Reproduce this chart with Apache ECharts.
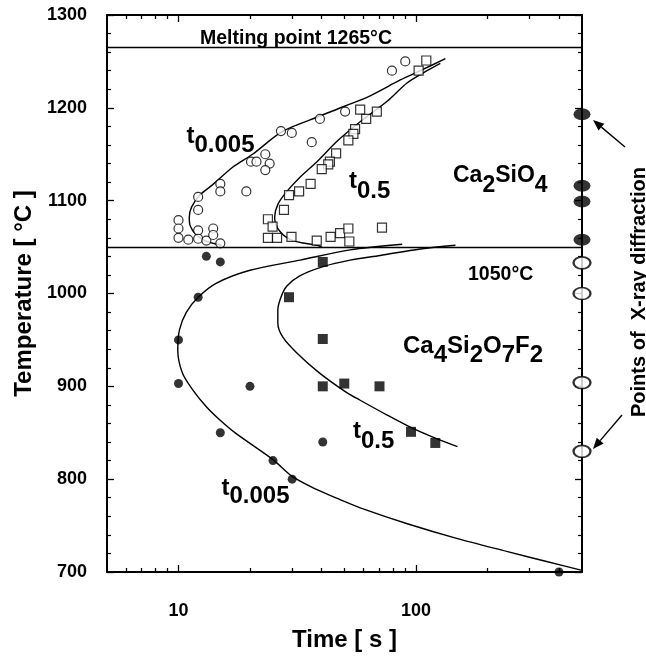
<!DOCTYPE html>
<html>
<head>
<meta charset="utf-8">
<script src="https://cdn.jsdelivr.net/npm/echarts@6/dist/echarts.min.js"></script>
<style>
  html, body { margin: 0; padding: 0; background: #fff; }
  #chart { width: 646px; height: 657px; }
</style>
</head>
<body>
<div id="chart"></div>
<script>
// [time s, temperature °C]
// above 1050°C (Ca2SiO4 field), open markers
const openCircles = [
  [10.0, 1079], [10.0, 1070], [10.0, 1060], [11.0, 1058], [12.1, 1068], [12.1, 1059],
  [13.1, 1057], [14.0, 1070], [14.0, 1063], [15.0, 1054], [12.1, 1104], [12.1, 1090],
  [15.0, 1118], [15.0, 1110], [19.3, 1110], [20.2, 1142], [21.3, 1142], [23.2, 1150],
  [24.2, 1140], [23.2, 1133], [27.0, 1175], [30.0, 1173], [36.4, 1163], [39.4, 1188],
  [50.3, 1196], [79.2, 1240], [90.1, 1250]
]
const openSquares = [
  [110.5, 1251], [102.6, 1240], [58.2, 1198], [68.4, 1196], [61.7, 1188], [55.4, 1177],
  [54.5, 1172], [51.9, 1165], [46.1, 1151], [43.4, 1142], [42.7, 1139], [40.1, 1134],
  [36.0, 1118], [32.2, 1110], [29.2, 1106], [27.8, 1090], [23.8, 1080], [24.9, 1072],
  [23.8, 1060], [26.0, 1060], [29.9, 1061], [38.2, 1057], [43.7, 1061], [47.9, 1065],
  [51.9, 1070], [52.4, 1056], [71.9, 1071]
]
// below 1050°C (Ca4Si2O7F2 field), filled markers
const filledCircles = [
  [13.1, 1040], [15.0, 1034], [12.1, 996], [10.0, 950], [10.0, 903], [20.0, 900],
  [15.0, 850], [25.0, 820], [30.1, 800], [40.5, 840], [400, 700]
]
const filledSquares = [
  [40.5, 1034], [29.2, 996], [40.5, 951], [40.5, 900], [49.9, 903], [70.2, 900],
  [95.3, 851], [120.6, 839]
]
// fitted curves
const upperT0005 = [
  [15.2, 1052], [12.9, 1057], [11.8, 1064], [11.2, 1073], [11.1, 1082], [11.35, 1093],
  [12.3, 1106], [13.9, 1117], [16.9, 1136], [20.5, 1150], [27.2, 1174], [35.8, 1187],
  [50.3, 1202], [64.1, 1213], [85.9, 1230], [104.3, 1240], [133, 1253]
]
const upperT05 = [
  [40.2, 1050], [38.3, 1052], [30.3, 1057], [26.7, 1067], [25.4, 1082], [26.2, 1096],
  [28.6, 1110], [32.4, 1125], [38.3, 1142], [46.5, 1164], [58.2, 1185], [75.6, 1207],
  [91.9, 1227], [109.5, 1239], [126.6, 1248]
]
const lowerT0005 = [
  [87.5, 1053], [52.8, 1047], [32.5, 1036], [20.0, 1025], [14.4, 1011], [12.1, 996],
  [10.8, 980], [10.1, 961], [9.93, 939], [10.4, 914], [11.5, 896], [13.1, 878],
  [14.9, 864], [17.5, 849], [25.0, 821], [30.1, 803], [38.1, 789], [47.9, 778],
  [59.9, 768], [91.9, 752], [149.5, 736], [243, 722], [358, 711], [495, 702]
]
const lowerT05 = [
  [146.6, 1052], [104.3, 1048], [70.7, 1041], [52.8, 1036], [40.6, 1029], [32.4, 1019],
  [28.6, 1008], [27.0, 996], [26.2, 982], [26.2, 968], [27.5, 953], [31.5, 936],
  [39.4, 914], [51.3, 893], [58.2, 885], [75.6, 869], [94.6, 856], [118.4, 845], [149.5, 835]
]
// points of X-ray diffraction, on the right frame
const xrayTime = 500
const xrayFilled = [1193, 1116, 1099, 1058]
const xrayOpen = [1033, 1000, 904, 830]
const phaseLines = [1265, 1050]

const xMajor = [10, 100]
const xMinor = [6, 7, 8, 9, 20, 30, 40, 50, 60, 70, 80, 90, 200, 300, 400]

const FONT = 'Liberation Sans, Arial, Helvetica, sans-serif'
const chart = echarts.init(document.getElementById('chart'))

const xBase = (position, ticks, len, labels) => ({
  type: 'log',
  logBase: 10,
  min: 5,
  max: 500,
  position: position,
  axisLine: { show: !!labels, lineStyle: { color: '#000', width: 2 } },
  axisTick: { show: true, inside: true, length: len, customValues: ticks, lineStyle: { color: '#000', width: 1.3 } },
  axisLabel: labels
    ? { show: true, customValues: xMajor, margin: 30, color: '#000', fontFamily: FONT, fontWeight: 'bold', fontSize: 18 }
    : { show: false },
  splitLine: { show: false },
  minorTick: { show: false }
})

const yBase = (position, labels) => ({
  type: 'value',
  min: 700,
  max: 1300,
  interval: 100,
  position: position,
  axisLine: { show: true, lineStyle: { color: '#000', width: 2 } },
  axisTick: { show: true, inside: true, length: 7, lineStyle: { color: '#000', width: 1.3 } },
  minorTick: { show: true, splitNumber: 5, length: 4, lineStyle: { color: '#000', width: 1.2 } },
  axisLabel: labels
    ? { show: true, margin: 20, color: '#000', fontFamily: FONT, fontWeight: 'bold', fontSize: 18, formatter: (v) => String(v) }
    : { show: false },
  splitLine: { show: false }
})

const xAxes = [
  Object.assign(xBase('bottom', xMajor, 7, true), {
    name: 'Time [ s ]', nameLocation: 'middle', nameGap: 56,
    nameTextStyle: { color: '#000', fontFamily: FONT, fontWeight: 'bold', fontSize: 24 }
  }),
  xBase('bottom', xMinor, 4, false),
  Object.assign(xBase('top', xMajor, 7, false), { axisLine: { show: true, lineStyle: { color: '#000', width: 2 } } }),
  xBase('top', xMinor, 4, false)
]
const yAxes = [
  Object.assign(yBase('left', true), {
    name: 'Temperature [ °C ]', nameLocation: 'middle', nameGap: 67,
    nameTextStyle: { color: '#000', fontFamily: FONT, fontWeight: 'bold', fontSize: 24 }
  }),
  yBase('right', false)
]

const curve = (data) => ({
  type: 'line',
  data: data,
  showSymbol: false,
  smooth: 0.3,
  silent: true,
  lineStyle: { color: '#000', width: 1.4 },
  z: 2
})
const marks = (data, symbol, size, filled) => ({
  type: 'scatter',
  data: data,
  symbol: symbol,
  symbolSize: size,
  clip: false,
  itemStyle: filled
    ? { color: '#000' }
    : { color: '#fff', borderColor: '#000', borderWidth: 1.2 },
  z: 4
})

// text with lowered subscripts: one text element per piece, placed by measured width
const ctx = document.createElement('canvas').getContext('2d')
const textWidth = (s, size) => {
  ctx.font = 'bold ' + size + 'px ' + FONT
  return ctx.measureText(s).width
}
const subText = (parts, x, baseline, size, drop) => {
  const out = []
  let cx = x
  parts.forEach((p, i) => {
    const b = baseline + (i % 2 ? drop : 0)
    out.push({
      type: 'text', x: cx, y: b - 0.35 * size, z: 10,
      style: { text: p, font: 'bold ' + size + 'px ' + FONT, fill: '#000', verticalAlign: 'middle', align: 'left' }
    })
    cx += textWidth(p, size)
  })
  return out
}

const arrow = (x1, y1, x2, y2) => {
  const a = Math.atan2(y2 - y1, x2 - x1)
  const L = 11, W = 4.5
  const bx = x2 - L * Math.cos(a), by = y2 - L * Math.sin(a)
  return {
    type: 'group',
    children: [
      { type: 'line', shape: { x1: x1, y1: y1, x2: bx, y2: by }, style: { stroke: '#000', lineWidth: 1.4 } },
      { type: 'polygon', shape: { points: [[x2, y2], [bx - W * Math.sin(a), by + W * Math.cos(a)], [bx + W * Math.sin(a), by - W * Math.cos(a)]] }, style: { fill: '#000' } }
    ],
    z: 10
  }
}

const option = {
  animation: false,
  backgroundColor: '#fff',
  grid: { left: 107, right: 64, top: 15, bottom: 85 },
  xAxis: xAxes,
  yAxis: yAxes,
  series: [
    Object.assign(marks([], 'circle', 1, true), {
      markLine: {
        silent: true,
        symbol: ['none', 'none'],
        label: { show: false },
        lineStyle: { color: '#000', width: 1.3, type: 'solid' },
        data: phaseLines.map((v) => ({ yAxis: v }))
      }
    }),
    curve(upperT0005),
    curve(upperT05),
    curve(lowerT0005),
    curve(lowerT05),
    marks(openCircles, 'circle', 9, false),
    marks(openSquares, 'rect', 9, false),
    marks(filledCircles, 'circle', 9, true),
    marks(filledSquares, 'rect', 10, true),
    Object.assign(marks(xrayFilled.map((t) => [xrayTime, t]), 'circle', [17, 12], true), { z: 6 }),
    Object.assign(marks(xrayOpen.map((t) => [xrayTime, t]), 'circle', [17, 12], false), { z: 6, itemStyle: { color: '#fff', borderColor: '#000', borderWidth: 2 } })
  ],
  graphic: [
    ...subText(['Melting point 1265°C'], 200, 45.7, 19.5, 0),
    ...subText(['1050°C'], 468, 281.7, 19.5, 0),
    ...subText(['Ca', '2', 'SiO', '4'], 453, 183.3, 23, 10),
    ...subText(['Ca', '4', 'Si', '2', 'O', '7', 'F', '2'], 403, 355, 24, 8.5),
    ...subText(['t', '0.005'], 186.5, 145, 24, 8.5),
    ...subText(['t', '0.5'], 349, 190, 24, 9.5),
    ...subText(['t', '0.5'], 353, 440, 24, 9.5),
    ...subText(['t', '0.005'], 221.5, 496.7, 24, 8.5),
    { type: 'text', x: 639, y: 292, rotation: Math.PI / 2, z: 10,
      style: { text: 'Points of  X-ray diffraction', font: 'bold 20px ' + FONT, fill: '#000', align: 'center', verticalAlign: 'middle' } },
    arrow(625, 147, 593, 120),
    arrow(622, 415, 593, 449)
  ]
}
chart.setOption(option)
</script>
</body>
</html>
